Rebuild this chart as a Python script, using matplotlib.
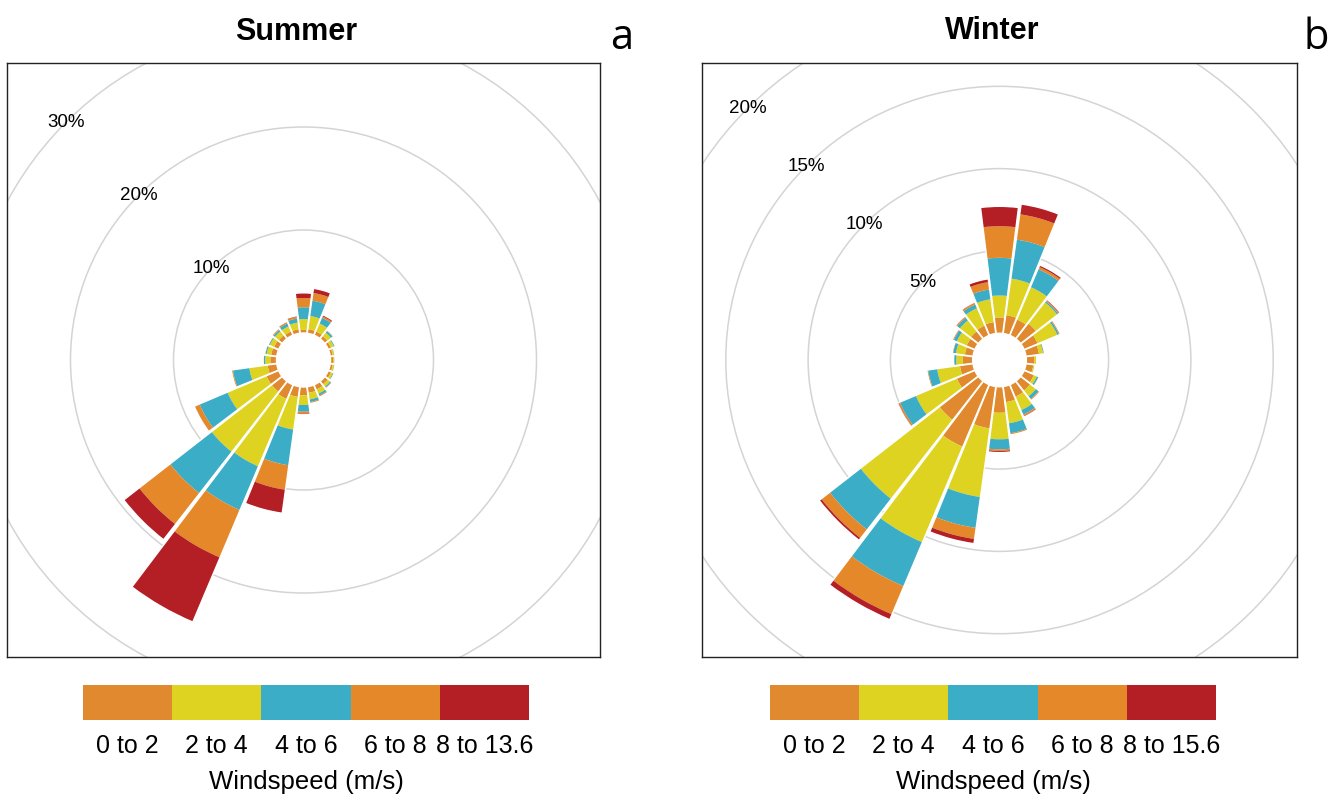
import numpy as np
import matplotlib
matplotlib.use("Agg")
import matplotlib.pyplot as plt
from matplotlib.patches import Wedge, Circle
from matplotlib.colors import ListedColormap, BoundaryNorm
from matplotlib.cm import ScalarMappable

# ---------------- data ----------------
directions = [0, 15, 30, 45, 60, 75, 90, 105, 120, 135, 150, 165,
              180, 195, 210, 225, 240, 255, 270, 285, 300, 315, 330, 345]

speed_colors = ["#E0892E", "#DDD320", "#3BADC7", "#E5882A", "#B41F25"]
summer_labels = ["0 to 2", "2 to 4", "4 to 6", "6 to 8", "8 to 13.6"]
winter_labels = ["0 to 2", "2 to 4", "4 to 6", "6 to 8", "8 to 15.6"]

# frequency (%) per direction for each wind-speed class
summer_0_2 = [0.30, 0.40, 0.40, 0.35, 0.30, 0.25, 0.25, 0.25, 0.30, 0.40, 0.50, 0.60,
              0.80, 1.00, 1.50, 1.30, 1.30, 0.90, 0.60, 0.55, 0.50, 0.45, 0.40, 0.40]
summer_2_4 = [1.05, 1.30, 0.85, 0.45, 0.30, 0.15, 0.13, 0.15, 0.20, 0.30, 0.45, 0.65,
              0.95, 3.20, 7.10, 7.40, 4.10, 1.80, 0.50, 0.45, 0.45, 0.50, 0.55, 0.65]
summer_4_6 = [1.15, 1.50, 0.60, 0.20, 0.10, 0.05, 0.04, 0.05, 0.08, 0.12, 0.20, 0.25,
              0.65, 3.50, 4.60, 5.10, 2.95, 1.60, 0.15, 0.12, 0.10, 0.17, 0.30, 0.40]
summer_6_8 = [0.90, 0.75, 0.15, 0.05, 0.02, 0.02, 0.01, 0.02, 0.04, 0.06, 0.10, 0.10,
              0.20, 2.40, 5.00, 3.80, 0.50, 0.15, 0.05, 0.05, 0.05, 0.10, 0.13, 0.17]
summer_8_up = [0.50, 0.45, 0.15, 0.05, 0.03, 0.01, 0.01, 0.01, 0.02, 0.04, 0.05, 0.05,
               0.10, 2.30, 6.80, 1.90, 0.05, 0.00, 0.00, 0.03, 0.02, 0.06, 0.07, 0.10]

winter_0_2 = [0.96, 1.13, 1.05, 1.20, 0.90, 0.80, 0.50, 0.45, 0.65, 0.75, 0.80, 0.96,
              1.58, 2.57, 4.10, 3.00, 1.20, 0.80, 0.60, 0.50, 0.55, 0.60, 0.65, 0.70]
winter_2_4 = [1.33, 2.24, 2.14, 1.63, 1.30, 0.25, 0.10, 0.07, 0.20, 0.45, 0.89, 1.30,
              1.61, 4.21, 6.30, 6.08, 2.70, 1.40, 0.40, 0.55, 0.65, 0.85, 1.15, 1.40]
winter_4_6 = [2.29, 2.39, 1.18, 0.09, 0.10, 0.05, 0.03, 0.03, 0.10, 0.20, 0.30, 0.61,
              0.61, 1.89, 2.90, 2.37, 1.05, 0.55, 0.13, 0.17, 0.20, 0.20, 0.25, 0.60]
winter_6_8 = [1.92, 1.55, 0.15, 0.06, 0.05, 0.02, 0.01, 0.01, 0.03, 0.07, 0.09, 0.08,
              0.10, 0.68, 1.85, 0.65, 0.10, 0.05, 0.03, 0.04, 0.06, 0.08, 0.10, 0.45]
winter_8_up = [1.21, 0.63, 0.12, 0.07, 0.04, 0.02, 0.00, 0.00, 0.02, 0.03, 0.06, 0.02,
               0.10, 0.29, 0.35, 0.16, 0.05, 0.03, 0.01, 0.02, 0.03, 0.04, 0.05, 0.20]

summer_grid = [10, 20, 30, 40]
winter_grid = [5, 10, 15, 20, 25]

# ---------------- style / layout ----------------
FONT = "Liberation Sans"
W, H = 1342, 802
fig = plt.figure(figsize=(W / 100, H / 100), dpi=100)


def px_axes(x0, y0, x1, y1):
    return fig.add_axes([x0 / W, 1 - y1 / H, (x1 - x0) / W, (y1 - y0) / H])


def draw_rose(ax, classes, grid, hole, half, title):
    ax.set_aspect("equal")
    ax.set_xlim(-half, half)
    ax.set_ylim(-half, half)
    ax.set_xticks([])
    ax.set_yticks([])
    for s in ax.spines.values():
        s.set_linewidth(1.0)
        s.set_color("#222222")
    # grid circles + labels
    for g in grid:
        ax.add_patch(Circle((0, 0), hole + g, fill=False, ec="#D4D4D4",
                            lw=1.1, zorder=1))
        a = np.deg2rad(135)
        r = hole + g
        if abs(r * np.cos(a)) < half * 0.97:
            ax.text(r * np.cos(a), r * np.sin(a), f"{g}%", ha="center",
                    va="center", fontsize=13.5, family=FONT, zorder=3)
    binw = 15.0
    gap = 0.4
    data = np.array(classes)  # shape (5, ndir)
    for j, d in enumerate(directions):
        t1 = 90 - d - binw / 2 + gap
        t2 = 90 - d + binw / 2 - gap
        base = hole
        for k in range(data.shape[0]):
            v = data[k, j]
            if v <= 0:
                continue
            ax.add_patch(Wedge((0, 0), base + v, t1, t2, width=v,
                               fc=speed_colors[k], ec="none", zorder=2))
            base += v
        ax.add_patch(Wedge((0, 0), base, t1, t2, width=base - hole,
                           fill=False, ec="white", lw=1.0, zorder=2.5))
    ax.set_title(title, fontsize=22, fontweight="bold", family=FONT, pad=17,
                 x=0.488)


ax1 = px_axes(7, 63, 600, 657)
draw_rose(ax1, [summer_0_2, summer_2_4, summer_4_6, summer_6_8, summer_8_up],
          summer_grid, 27 / 10.3, 296.5 / 10.3, "Summer")
ax2 = px_axes(700, 63, 1299, 657)
draw_rose(ax2, [winter_0_2, winter_2_4, winter_4_6, winter_6_8, winter_8_up],
          winter_grid, 27 / 16.6, 299.5 / 16.6, "Winter")

fig.text(622 / W, 1 - 38 / H, "a", fontsize=30, family="Open Sans",
         ha="center", va="center")
fig.text(1316 / W, 1 - 38 / H, "b", fontsize=30, family="Open Sans",
         ha="center", va="center")

# ---------------- legends ----------------
cmap = ListedColormap(speed_colors)
norm = BoundaryNorm(np.arange(6), cmap.N)


def legend(x0, x1, labels):
    cax = px_axes(x0, 685, x1, 720)
    cb = fig.colorbar(ScalarMappable(norm=norm, cmap=cmap), cax=cax,
                      orientation="horizontal")
    cb.outline.set_visible(False)
    cb.set_ticks(np.arange(5) + 0.5)
    cb.set_ticklabels(labels)
    cax.minorticks_off()
    cax.tick_params(which="both", length=0, pad=10)
    for t in cax.get_xticklabels():
        t.set_fontsize(18)
        t.set_family(FONT)
    cax.set_xlabel("Windspeed (m/s)", fontsize=18.5, family=FONT, labelpad=9)


legend(83, 529, summer_labels)
legend(770, 1216, winter_labels)

fig.savefig("out.png", dpi=100, facecolor="white")
